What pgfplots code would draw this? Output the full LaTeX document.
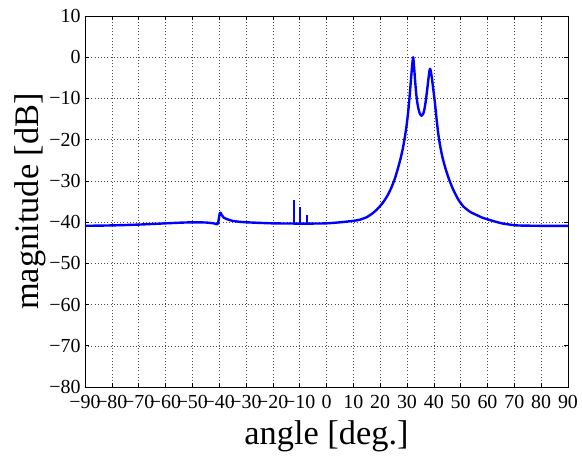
\documentclass[border=0pt]{standalone}
\usepackage{fontspec}
\setmainfont{Liberation Serif}
\usepackage{pgfplots}
\pgfplotsset{compat=1.18}
\definecolor{mblue}{RGB}{0,0,255}

\begin{document}
\begin{tikzpicture}
\begin{axis}[
  at={(0,0)}, anchor=south west,
  scale only axis, width=483bp, height=371bp,
  xmin=-90, xmax=90, ymin=-80, ymax=10,
  xtick={-90,-80,...,90}, ytick={-80,-70,...,10},
  xticklabels={−90,−80,−70,−60,−50,−40,−30,−20,−10,0,10,20,30,40,50,60,70,80,90},
  yticklabels={−80,−70,−60,−50,−40,−30,−20,−10,0,10},
  tick label style={font=\fontsize{20}{20}\selectfont},
  xticklabel style={anchor=base, yshift=-22bp},
  yticklabel style={anchor=east, xshift=-1bp},
  tick align=inside, major tick length=4bp,
  axis line style={line width=0.9bp},
  every tick/.style={black, line width=0.6bp},
  grid=major,
  major grid style={black!70, line width=0.5bp, dash pattern=on 0.6bp off 2.6bp},
  xlabel={angle [deg.]}, ylabel={magnitude [dB]},
  label style={font=\fontsize{34.5}{34.5}\selectfont},
  xlabel style={at={(axis description cs:0.5,-0.1563)}, anchor=base},
  ylabel style={at={(axis description cs:-0.0973,0.5)}, anchor=base},
]
\addplot[mblue, line width=2.4bp, line join=round, smooth, tension=0.35] coordinates {
(-90,-40.9) (-80,-40.8) (-70,-40.6) (-60,-40.3) (-55,-40.15) (-50,-40.05)
(-45,-40.1) (-42,-40.3) (-41,-40.5) (-40.5,-40.45) (-40.1,-39.1) (-39.8,-37.9)
(-39.5,-37.7) (-39.1,-38.2) (-38.3,-38.9) (-37,-39.3) (-35,-39.7) (-32,-39.95) (-28,-40.1)
(-20,-40.3) (-12,-40.35) (-5,-40.35) (0,-40.3) (5,-40.05) (10,-39.7)
(12.5,-39.4) (15,-38.8) (17.3,-37.8) (19,-36.8) (21,-35.3) (22.7,-33.6)
(24.2,-31.6) (25.5,-29.4) (26.6,-27) (27.6,-24.6) (28.5,-22) (29.3,-19)
(30,-15.8) (30.6,-12.2) (31.1,-8.5) (31.6,-4.5) (32,-1.5) (32.3,0)
(32.6,-2) (33,-5.5) (33.4,-8.6) (33.8,-10.8) (34.3,-12.6) (34.8,-13.7)
(35.4,-14.2) (36,-13.8) (36.5,-12.6) (37,-10.6) (37.5,-8)
(38,-5.2) (38.35,-3.4) (38.6,-2.8) (38.9,-3.5) (39.3,-5.2)
(39.8,-7.8) (40.4,-11) (41,-14.8) (41.6,-18.3) (42.3,-21.3) (43.2,-24.2)
(44.3,-26.9) (45.5,-29.3) (47,-31.8) (49,-34.4)
(51,-36.2) (53.5,-37.5) (56,-38.3) (58,-38.9) (60.4,-39.4) (63,-39.9)
(65.8,-40.35) (70.9,-40.8) (80,-40.9) (90,-40.9)
};
\addplot[mblue, line width=2bp] coordinates {(-12.2,-40.35) (-12.2,-34.7)};
\addplot[mblue, line width=2bp] coordinates {(-9.8,-40.35) (-9.8,-36.4)};
\addplot[mblue, line width=2bp] coordinates {(-7.3,-40.35) (-7.3,-38.3)};
\end{axis}
\useasboundingbox (-85bp,-65bp) rectangle (497bp,387bp);
\end{tikzpicture}
\end{document}
